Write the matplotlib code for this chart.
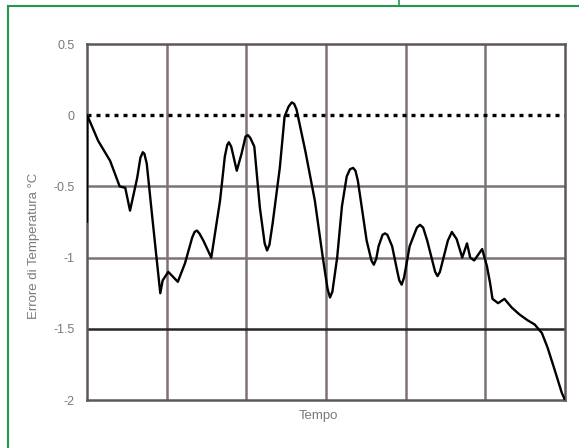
import numpy as np
import matplotlib.pyplot as plt
from matplotlib.lines import Line2D

plt.rcParams['font.family'] = ['Liberation Sans', 'DejaVu Sans']

# curve (time in grid units, error in degC)
tempo = [0.00, 0.003, 0.14, 0.29, 0.41, 0.48, 0.54, 0.63, 0.67, 0.70, 0.72, 0.75, 0.82, 0.88,
         0.92, 0.95, 1.02, 1.14, 1.23, 1.32, 1.35, 1.38, 1.41, 1.46, 1.56, 1.67, 1.73, 1.76,
         1.78, 1.81, 1.88, 1.94, 1.99, 2.02, 2.05, 2.10, 2.17, 2.23, 2.26, 2.29, 2.33, 2.42,
         2.48, 2.53, 2.57, 2.60, 2.63, 2.74, 2.86, 2.96, 3.02, 3.05, 3.08, 3.14, 3.20, 3.26,
         3.30, 3.34, 3.37, 3.40, 3.51, 3.57, 3.60, 3.63, 3.66, 3.71, 3.74, 3.77, 3.83, 3.90,
         3.92, 3.95, 3.98, 4.05, 4.14, 4.18, 4.22, 4.27, 4.37, 4.40, 4.43, 4.53, 4.58, 4.64,
         4.71, 4.77, 4.81, 4.86, 4.96, 5.02, 5.06, 5.09, 5.16, 5.24, 5.33, 5.43, 5.53, 5.62,
         5.71, 5.78, 5.86, 5.96, 6.00]
errore = [-0.75, 0.00, -0.18, -0.32, -0.50, -0.51, -0.67, -0.44, -0.30, -0.26, -0.27, -0.34, -0.72, -1.04,
          -1.25, -1.16, -1.10, -1.17, -1.04, -0.86, -0.82, -0.81, -0.83, -0.88, -1.00, -0.60, -0.29, -0.21,
          -0.19, -0.22, -0.39, -0.27, -0.15, -0.14, -0.16, -0.22, -0.65, -0.90, -0.95, -0.91, -0.76, -0.37,
          -0.01, 0.06, 0.09, 0.08, 0.04, -0.25, -0.60, -1.00, -1.22, -1.28, -1.24, -1.00, -0.64, -0.43,
          -0.38, -0.37, -0.39, -0.46, -0.88, -1.02, -1.05, -1.01, -0.92, -0.84, -0.83, -0.84, -0.92, -1.11,
          -1.16, -1.19, -1.14, -0.92, -0.79, -0.77, -0.79, -0.88, -1.10, -1.13, -1.10, -0.88, -0.82, -0.87,
          -1.00, -0.90, -1.00, -1.02, -0.94, -1.06, -1.18, -1.29, -1.32, -1.29, -1.35, -1.40, -1.44, -1.47,
          -1.53, -1.63, -1.77, -1.95, -2.00]
yticks = [0.5, 0, -0.5, -1, -1.5, -2]
ytick_labels = ['0.5', '0', '-0.5', '-1', '-1.5', '-2']

gridColor = '#7d7373'
textColor = '#7a7a7a'
green = '#1f9a50'

fig = plt.figure(figsize=(5.79, 4.48), dpi=100)
ax = fig.add_axes([87/579, 48/448, 478/579, 356/448])

for v in range(1, 6):
    ax.axvline(v, color=gridColor, lw=1.8, zorder=1)
for v in [-0.5, -1]:
    ax.axhline(v, color=gridColor, lw=1.8, zorder=1)
ax.axhline(-1.5, color='#2a2424', lw=1.8, zorder=1)
ax.axhline(0, color='black', lw=2.4, ls=(0, (1.2, 1.5)), zorder=2)

ax.plot(tempo, errore, color='black', lw=1.7, zorder=3,
        solid_joinstyle='round', solid_capstyle='round')

ax.set_xlim(0, 6)
ax.set_ylim(-2, 0.5)
ax.set_xticks([])
ax.set_yticks(yticks)
ax.set_yticklabels(ytick_labels)
ax.tick_params(axis='y', length=0, pad=9, labelsize=9, labelcolor=textColor)
for s in ax.spines.values():
    s.set_color('#5f5757')
    s.set_linewidth(1.8)

ax.set_xlabel('Tempo', fontsize=9.5, color=textColor)
ax.xaxis.set_label_coords(0.485, -0.028)
ax.set_ylabel('Errore di Temperatura °C', fontsize=9.5, color=textColor)
ax.yaxis.set_label_coords(-0.098, 0.433)

# green frame around the figure
fig.add_artist(Line2D([8/579, 8/579], [0, 1 - 6/448], color=green, lw=1.5, transform=fig.transFigure))
fig.add_artist(Line2D([8/579, 1], [1 - 6/448, 1 - 6/448], color=green, lw=1.5, transform=fig.transFigure))
fig.add_artist(Line2D([399/579, 399/579], [1 - 6/448, 1], color=green, lw=1.2, transform=fig.transFigure))

fig.savefig('out.png', dpi=100)
